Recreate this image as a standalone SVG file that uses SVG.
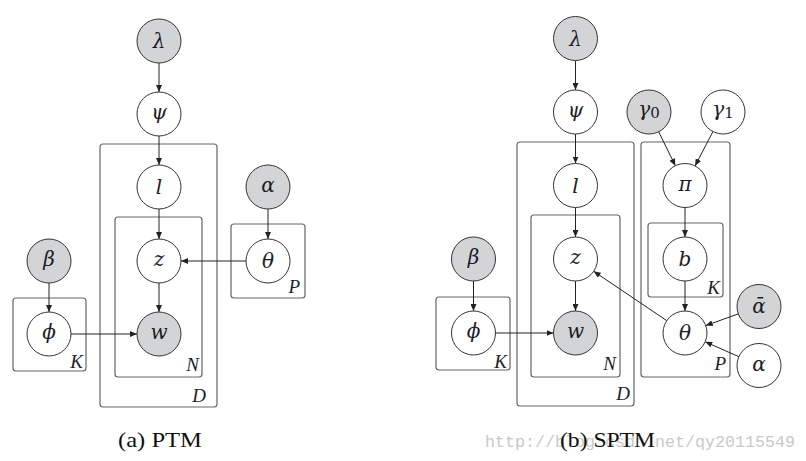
<svg xmlns="http://www.w3.org/2000/svg" width="806" height="461" viewBox="0 0 806 461">
<style>
.nd{fill:#fff;stroke:#333;stroke-width:1}
.obs{fill:#d3d4d6}
.pl{fill:none;stroke:#666;stroke-width:1.2}
.lb{font-family:"DejaVu Serif","Liberation Serif",serif;font-style:italic;font-size:20px;fill:#1c1c2a;text-anchor:middle}
.pt{font-family:"Liberation Serif","DejaVu Serif",serif;font-style:italic;font-size:19px;fill:#1c1c2a;text-anchor:end}
.cap{font-family:"Liberation Serif","DejaVu Serif",serif;font-size:21px;fill:#111}
.wm{font-family:"Liberation Mono","DejaVu Sans Mono",monospace;font-size:17px;fill:#c9c9c9}
.e{stroke:#222;stroke-width:1;fill:none;marker-end:url(#ah)}
</style>
<defs>
<marker id="ah" markerUnits="userSpaceOnUse" markerWidth="8" markerHeight="6" refX="7" refY="3" orient="auto">
<path d="M0,0 L7,3 L0,6 z" fill="#222"/>
</marker>
</defs>
<rect width="806" height="461" fill="#fff"/>

<!-- plates -->
<g id="plates">
<rect class="pl" x="100" y="144" width="117" height="263" rx="3"/>
<rect class="pl" x="115" y="217" width="87" height="160" rx="3"/>
<rect class="pl" x="231" y="224" width="74" height="74" rx="3"/>
<rect class="pl" x="13" y="298" width="73" height="73" rx="3"/>
<text class="pt" x="206" y="402">D</text>
<text class="pt" x="199" y="371">N</text>
<text class="pt" x="300" y="293">P</text>
<text class="pt" x="83" y="368">K</text>

<rect class="pl" x="517" y="142" width="117" height="264" rx="3"/>
<rect class="pl" x="531" y="215" width="89" height="162" rx="3"/>
<rect class="pl" x="641" y="142" width="89" height="235" rx="3"/>
<rect class="pl" x="648" y="223" width="75" height="74" rx="3"/>
<rect class="pl" x="436" y="297" width="74" height="73" rx="3"/>
<text class="pt" x="630" y="400">D</text>
<text class="pt" x="616" y="370">N</text>
<text class="pt" x="726" y="370">P</text>
<text class="pt" x="720" y="294">K</text>
<text class="pt" x="507" y="368">K</text>
</g>

<!-- connectors -->
<g id="edges">
<line class="e" x1="159" y1="63" x2="159" y2="92"/>
<line class="e" x1="159" y1="136" x2="159" y2="165"/>
<line class="e" x1="159" y1="209" x2="159" y2="239"/>
<line class="e" x1="159" y1="283" x2="159" y2="312"/>
<line class="e" x1="268" y1="209" x2="268" y2="239"/>
<line class="e" x1="246" y1="261" x2="181" y2="261"/>
<line class="e" x1="49" y1="283" x2="49" y2="312"/>
<line class="e" x1="71" y1="334" x2="137" y2="334"/>

<line class="e" x1="575.5" y1="60.5" x2="575.5" y2="90"/>
<line class="e" x1="575.5" y1="134" x2="575.5" y2="163.5"/>
<line class="e" x1="575.5" y1="207.5" x2="575.5" y2="237"/>
<line class="e" x1="575.5" y1="281" x2="575.5" y2="311"/>
<line class="e" x1="658.7" y1="131.8" x2="675.3" y2="165.7"/>
<line class="e" x1="712.9" y1="131.6" x2="695.1" y2="165.9"/>
<line class="e" x1="685" y1="207.5" x2="685" y2="237"/>
<line class="e" x1="685" y1="281" x2="685" y2="311"/>
<line class="e" x1="666.8" y1="320.7" x2="593.7" y2="271.3"/>
<line class="e" x1="738.3" y1="313.9" x2="705.7" y2="325.6"/>
<line class="e" x1="738.8" y1="356.7" x2="705.2" y2="341.8"/>
<line class="e" x1="473.5" y1="281" x2="473.5" y2="311"/>
<line class="e" x1="495.5" y1="333" x2="553.5" y2="333"/>
</g>

<!-- left: PTM -->
<g id="a_lambda"><circle class="nd obs" cx="159" cy="41" r="22"/><text class="lb" x="159" y="48">λ</text></g>
<g id="a_psi"><circle class="nd" cx="159" cy="114" r="22"/><text class="lb" x="159" y="119">ψ</text></g>
<g id="a_l"><circle class="nd" cx="159" cy="187" r="22"/><text class="lb" x="159" y="194">l</text></g>
<g id="a_z"><circle class="nd" cx="159" cy="261" r="22"/><text class="lb" x="159" y="266">z</text></g>
<g id="a_w"><circle class="nd obs" cx="159" cy="334" r="22"/><text class="lb" x="159" y="339">w</text></g>
<g id="a_alpha"><circle class="nd obs" cx="268" cy="187" r="22"/><text class="lb" x="268" y="192">α</text></g>
<g id="a_theta"><circle class="nd" cx="268" cy="261" r="22"/><text class="lb" x="268" y="268">θ</text></g>
<g id="a_beta"><circle class="nd obs" cx="49" cy="261" r="22"/><text class="lb" x="49" y="266">β</text></g>
<g id="a_phi"><circle class="nd" cx="49" cy="334" r="22"/><text class="lb" x="49" y="339">ϕ</text></g>

<!-- right: SPTM -->
<g id="b_lambda"><circle class="nd obs" cx="575.5" cy="38.5" r="22"/><text class="lb" x="575.5" y="45.5">λ</text></g>
<g id="b_psi"><circle class="nd" cx="575.5" cy="112" r="22"/><text class="lb" x="575.5" y="117">ψ</text></g>
<g id="b_gamma0"><circle class="nd obs" cx="649" cy="112" r="22"/><text class="lb" x="649" y="116">γ<tspan font-style="normal" font-size="15" dy="2">0</tspan></text></g>
<g id="b_gamma1"><circle class="nd" cx="723" cy="112" r="22"/><text class="lb" x="723" y="116">γ<tspan font-style="normal" font-size="15" dy="2">1</tspan></text></g>
<g id="b_l"><circle class="nd" cx="575.5" cy="185.5" r="22"/><text class="lb" x="575.5" y="192.5">l</text></g>
<g id="b_pi"><circle class="nd" cx="685" cy="185.5" r="22"/><text class="lb" x="685" y="190.5">π</text></g>
<g id="b_z"><circle class="nd" cx="575.5" cy="259" r="22"/><text class="lb" x="575.5" y="264">z</text></g>
<g id="b_b"><circle class="nd" cx="685" cy="259" r="22"/><text class="lb" x="685" y="266">b</text></g>
<g id="b_beta"><circle class="nd obs" cx="473.5" cy="259" r="22"/><text class="lb" x="473.5" y="264">β</text></g>
<g id="b_phi"><circle class="nd" cx="473.5" cy="333" r="22"/><text class="lb" x="473.5" y="338">ϕ</text></g>
<g id="b_w"><circle class="nd obs" cx="575.5" cy="333" r="22"/><text class="lb" x="575.5" y="338">w</text></g>
<g id="b_theta"><circle class="nd" cx="685" cy="333" r="22"/><text class="lb" x="685" y="340">θ</text></g>
<g id="b_alphabar"><circle class="nd obs" cx="759" cy="306.5" r="22"/><text class="lb" x="759" y="313">ᾱ</text></g>
<g id="b_alpha"><circle class="nd" cx="759" cy="365.5" r="22"/><text class="lb" x="759" y="371">α</text></g>

<!-- captions -->
<text class="wm" x="485" y="447" textLength="310" lengthAdjust="spacingAndGlyphs">http://blog.csdn.net/qy20115549</text>
<text class="cap" x="118" y="447" textLength="84" lengthAdjust="spacingAndGlyphs">(a) PTM</text>
<text class="cap" x="560" y="447" textLength="95" lengthAdjust="spacingAndGlyphs">(b) SPTM</text>
</svg>
